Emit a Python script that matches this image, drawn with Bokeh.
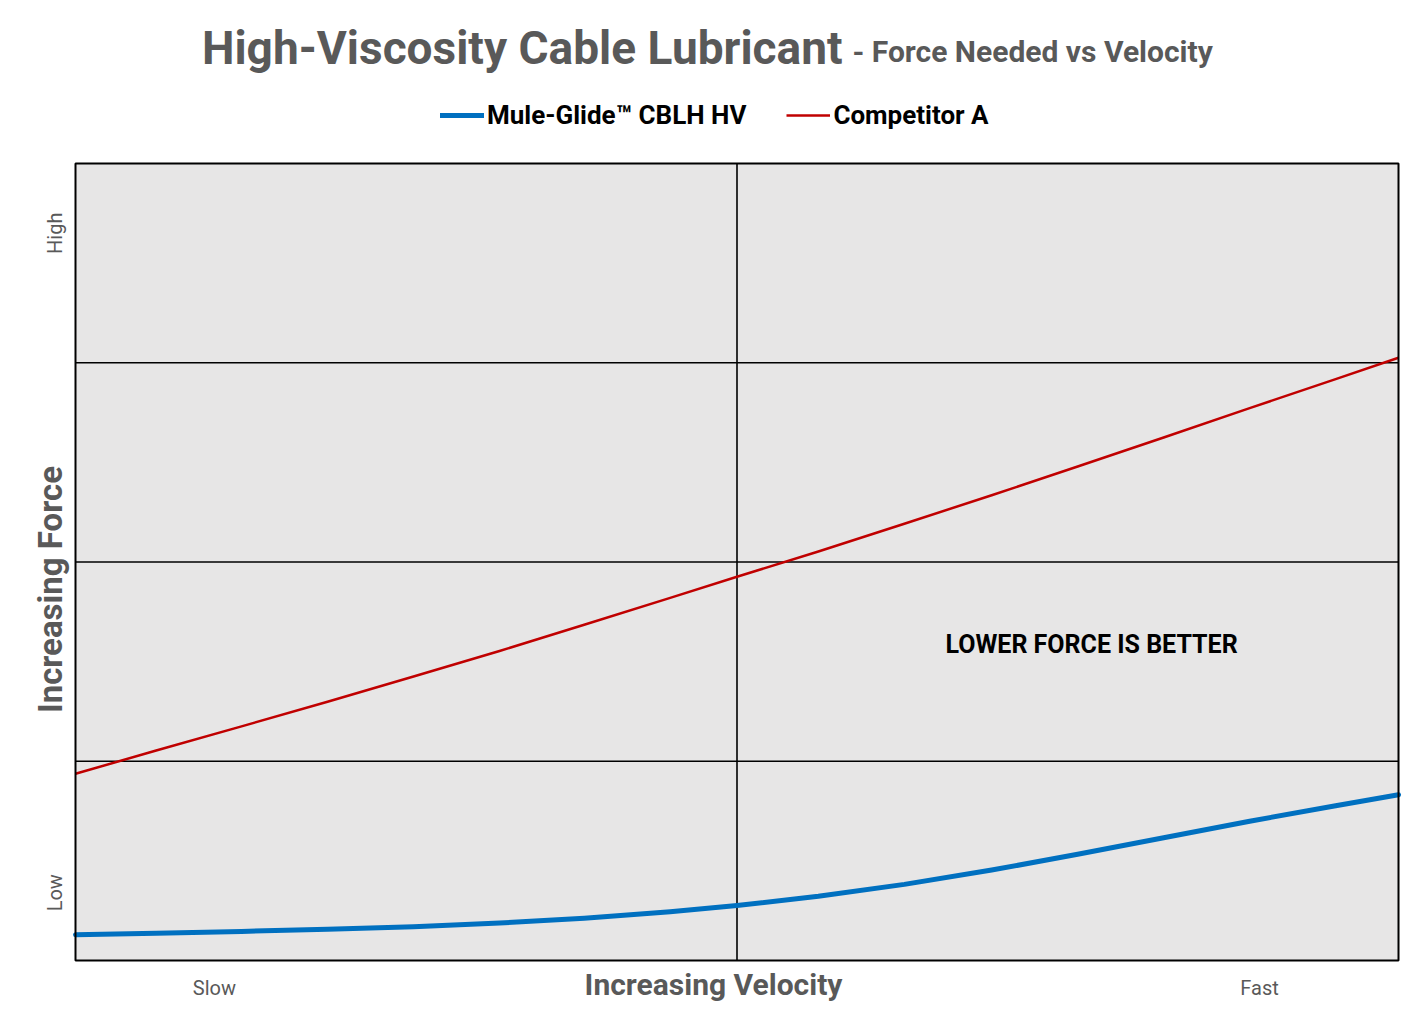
from bokeh.plotting import figure
from bokeh.models import Range1d, Label, Legend, LegendItem
from bokeh.embed import file_html
from bokeh.resources import INLINE
import math

# Data (relative units: velocity 0..2, force 0..4)
velocity = [0.0, 0.122, 0.251, 0.381, 0.511, 0.641, 0.769, 0.899, 1.0,
            1.123, 1.253, 1.385, 1.515, 1.645, 1.775, 1.905, 2.0]
force_mule = [0.129, 0.137, 0.146, 0.157, 0.170, 0.188, 0.212, 0.245, 0.276,
              0.322, 0.382, 0.454, 0.533, 0.616, 0.699, 0.777, 0.832]
force_competitor = [0.937, 1.054, 1.175, 1.299, 1.425, 1.553, 1.685, 1.820, 1.926,
                    2.053, 2.192, 2.335, 2.479, 2.625, 2.772, 2.918, 3.025]
series_names = ["Mule-Glide\u2122 CBLH HV", "Competitor A"]
x_ticks = [0.21, 1.79]
x_tick_labels = ["Slow", "Fast"]
y_ticks = [0.34, 3.65]
y_tick_labels = ["Low", "High"]
x_grid = [1]
y_grid = [1, 2, 3]
x_span = [0, 2]
y_span = [0, 4]

FONT = "Roboto"
GRAY = "#595959"

# Canvas layout (pixels): plot area inside a canvas that holds titles and legend
W, H = 1413, 1022
AREA_L, AREA_R, AREA_T, AREA_B = 75, 1398, 163, 960
sx = (AREA_R - AREA_L) / (x_span[1] - x_span[0])
sy = (AREA_B - AREA_T) / (y_span[1] - y_span[0])
x_range = Range1d(x_span[0] - AREA_L / sx, x_span[1] + (W - AREA_R) / sx)
y_range = Range1d(y_span[0] - (H - AREA_B) / sy, y_span[1] + AREA_T / sy)

p = figure(width=W, height=H, output_backend="svg", toolbar_location=None,
           x_range=x_range, y_range=y_range,
           min_border_left=0, min_border_right=0, min_border_top=0, min_border_bottom=0)
p.axis.visible = False
p.grid.visible = False
p.outline_line_color = None
p.background_fill_color = "white"
p.border_fill_color = "white"

# Plot area background
p.quad(left=[x_span[0]], right=[x_span[1]], bottom=[y_span[0]], top=[y_span[1]],
       fill_color="#E7E6E6", line_color=None)
# Gridlines
p.segment(x0=x_grid, y0=[y_span[0]] * len(x_grid), x1=x_grid, y1=[y_span[1]] * len(x_grid),
          line_color="black", line_width=1.6)
p.segment(x0=[x_span[0]] * len(y_grid), y0=y_grid, x1=[x_span[1]] * len(y_grid), y1=y_grid,
          line_color="black", line_width=1.6)

r_mule = p.line(velocity, force_mule, line_color="#0070C0", line_width=5, line_join="round", line_cap="round")
r_comp = p.line(velocity, force_competitor, line_color="#C00000", line_width=2.5, line_join="round")

# Plot area border
p.quad(left=[x_span[0]], right=[x_span[1]], bottom=[y_span[0]], top=[y_span[1]],
       fill_color=None, line_color="black", line_width=2)

def top_px(py):
    return H - py

legend = Legend(items=[LegendItem(label=series_names[0], renderers=[r_mule]),
                       LegendItem(label=series_names[1], renderers=[r_comp])],
                orientation="horizontal", location=(440, top_px(130)),
                label_text_font=FONT, label_text_font_style="bold", label_text_font_size="26px",
                label_text_color="black", glyph_width=44, glyph_height=30, label_height=30,
                label_standoff=3, spacing=40, padding=0, margin=0,
                background_fill_alpha=0, border_line_color=None)
p.add_layout(legend, "center")

# Title and subtitle
p.add_layout(Label(x=842, y=top_px(47), x_units="screen", y_units="screen",
                   text="High-Viscosity Cable Lubricant", text_align="right",
                   text_baseline="alphabetic", text_font=FONT, text_font_style="bold",
                   text_font_size="46px", text_color=GRAY))
p.add_layout(Label(x=852, y=top_px(51), x_units="screen", y_units="screen",
                   text="- Force Needed vs Velocity", text_align="left",
                   text_baseline="alphabetic", text_font=FONT, text_font_style="bold",
                   text_font_size="30px", text_color=GRAY))

# Axis titles
p.add_layout(Label(x=713, y=top_px(984), x_units="screen", y_units="screen",
                   text="Increasing Velocity", text_align="center", text_baseline="middle",
                   text_font=FONT, text_font_style="bold", text_font_size="30px", text_color=GRAY))
p.add_layout(Label(x=50, y=top_px(589), x_units="screen", y_units="screen",
                   text="Increasing Force", text_align="center", text_baseline="middle",
                   angle=math.pi / 2, text_font=FONT, text_font_style="bold",
                   text_font_size="33px", text_color=GRAY))

# Tick labels
for t, s in zip(x_ticks, x_tick_labels):
    p.add_layout(Label(x=t, y=top_px(987), y_units="screen", text=s, text_align="center",
                       text_baseline="middle", text_font=FONT, text_font_size="20px", text_color=GRAY))
for t, s in zip(y_ticks, y_tick_labels):
    p.add_layout(Label(x=54, y=t, x_units="screen", text=s, text_align="center",
                       text_baseline="middle", angle=math.pi / 2, text_font=FONT,
                       text_font_size="20px", text_color=GRAY))

# Annotation
p.add_layout(Label(x=1.536, y=1.586, text="LOWER FORCE IS BETTER", text_align="center",
                   text_baseline="middle", text_font=FONT, text_font_style="bold",
                   text_font_size="25px", text_color="black"))

open("out.html", "w").write(file_html(p, INLINE))
